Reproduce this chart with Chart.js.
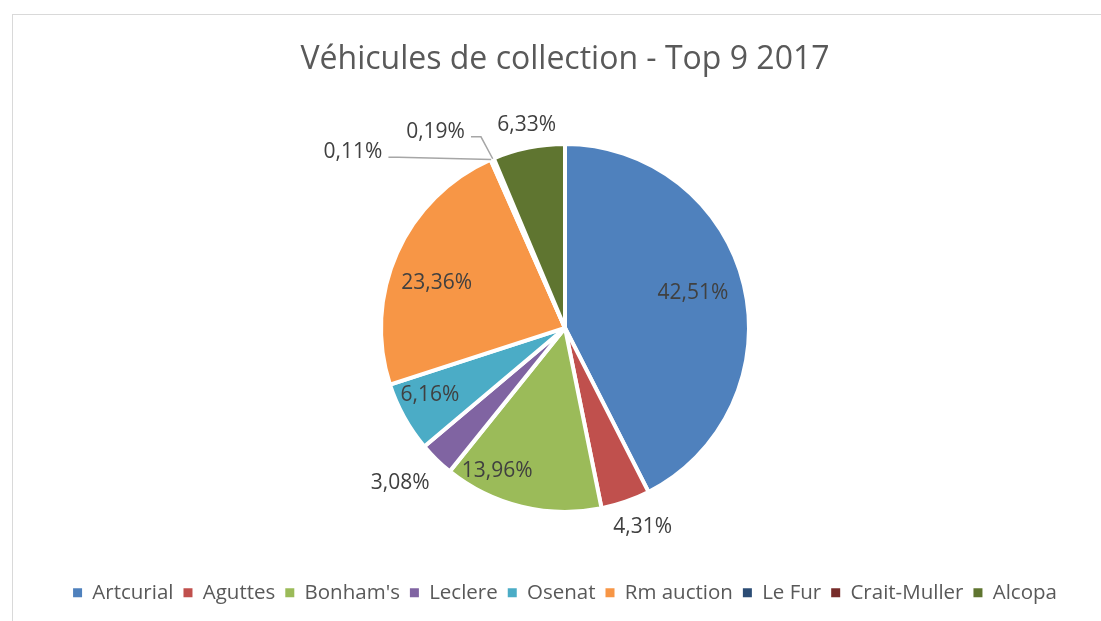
<!DOCTYPE html>
<html>
<head>
<meta charset="utf-8">
<script src="https://cdn.jsdelivr.net/npm/chart.js@4/dist/chart.umd.min.js"></script>
<style>
  html, body { margin: 0; padding: 0; background: #fff; }
  #wrap { position: relative; width: 1101px; height: 621px; overflow: hidden; }
  #frame { position: absolute; left: 12px; top: 14px; width: 1200px; height: 700px;
           border-left: 1.5px solid #d9d9d9; border-top: 1.5px solid #d9d9d9; }
  canvas { position: absolute; left: 0; top: 0; }
</style>
</head>
<body>
<div id="wrap">
  <div id="frame"></div>
  <canvas id="c" width="1101" height="621"></canvas>
</div>
<script>
const titleText = 'Véhicules de collection - Top 9 2017';
const categories = ['Artcurial', 'Aguttes', "Bonham's", 'Leclere', 'Osenat', 'Rm auction', 'Le Fur', 'Crait-Muller', 'Alcopa'];
const shares = [42.51, 4.31, 13.96, 3.08, 6.16, 23.36, 0.11, 0.19, 6.33];
const colors = ['#4F81BD', '#C0504D', '#9BBB59', '#8064A2', '#4BACC6', '#F79646', '#2C4D75', '#772C2A', '#5F7530'];

// label placement (Excel "best fit" look): angle offset from slice middle (deg), radius factor, leader line
const labelPlacement = [
  { da: -1.6, rf: 0.72 },
  { da: -2.1, rf: 1.16 },
  { da: 11.7, rf: 0.86 },
  { da: 2.4,  rf: 1.23 },
  { da: 2.6,  rf: 0.82 },
  { da: -4.6, rf: 0.74 },
  { da: -26.7, rf: 1.496, leader: true },
  { da: -10.3, rf: 1.277, leader: true },
  { da: 0.7,  rf: 1.12 }
];

const FONT = "'Open Sans', 'DejaVu Sans', sans-serif";

const fmt = v => v.toFixed(2).replace('.', ',') + '%';

const labelPlugin = {
  id: 'sliceLabels',
  afterDatasetsDraw(chart) {
    const ctx = chart.ctx;
    const meta = chart.getDatasetMeta(0);
    ctx.save();
    ctx.font = "21px " + FONT;
    ctx.fillStyle = '#404040';
    ctx.textAlign = 'center';
    ctx.textBaseline = 'middle';
    meta.data.forEach((arc, i) => {
      const p = arc.getProps(['x', 'y', 'startAngle', 'endAngle', 'outerRadius'], true);
      const mid = (p.startAngle + p.endAngle) / 2;
      const pl = labelPlacement[i];
      const a = mid + pl.da * Math.PI / 180;
      const lx = p.x + Math.cos(a) * p.outerRadius * pl.rf;
      const ly = p.y + Math.sin(a) * p.outerRadius * pl.rf;
      const txt = fmt(shares[i]);
      if (pl.leader) {
        const w = ctx.measureText(txt).width;
        const ax = p.x + Math.cos(mid) * p.outerRadius;
        const ay = p.y + Math.sin(mid) * p.outerRadius;
        const sx = lx + w / 2 + 6;
        const sy = ly + 5;
        const ex = Math.min(sx + 10, ax);
        ctx.save();
        ctx.strokeStyle = '#a6a6a6';
        ctx.lineWidth = 1.5;
        ctx.beginPath();
        ctx.moveTo(sx, sy);
        ctx.lineTo(ex, sy);
        ctx.lineTo(ax, ay);
        ctx.stroke();
        ctx.restore();
      }
      ctx.fillText(txt, lx, ly);
    });
    ctx.restore();
  }
};

new Chart(document.getElementById('c'), {
  type: 'pie',
  data: {
    labels: categories,
    datasets: [{
      data: shares,
      backgroundColor: colors,
      borderColor: '#ffffff',
      borderWidth: 4,
      radius: 184
    }]
  },
  options: {
    responsive: false,
    animation: false,
    events: [],
    layout: { padding: { left: 29, right: 0, top: 0, bottom: 8 } },
    plugins: {
      title: {
        display: true,
        text: titleText,
        color: '#595959',
        font: { family: FONT, size: 32, weight: 'normal' },
        padding: { top: 41, bottom: 4 }
      },
      legend: {
        position: 'bottom',
        labels: {
          color: '#595959',
          font: { family: FONT, size: 20.5 },
          boxWidth: 9,
          boxHeight: 9,
          padding: 10,
          generateLabels(chart) {
            const items = Chart.overrides.pie.plugins.legend.labels.generateLabels(chart);
            return items.map(it => Object.assign(it, { strokeStyle: it.fillStyle, lineWidth: 0 }));
          }
        }
      },
      tooltip: { enabled: false }
    }
  },
  plugins: [labelPlugin]
});
</script>
</body>
</html>
